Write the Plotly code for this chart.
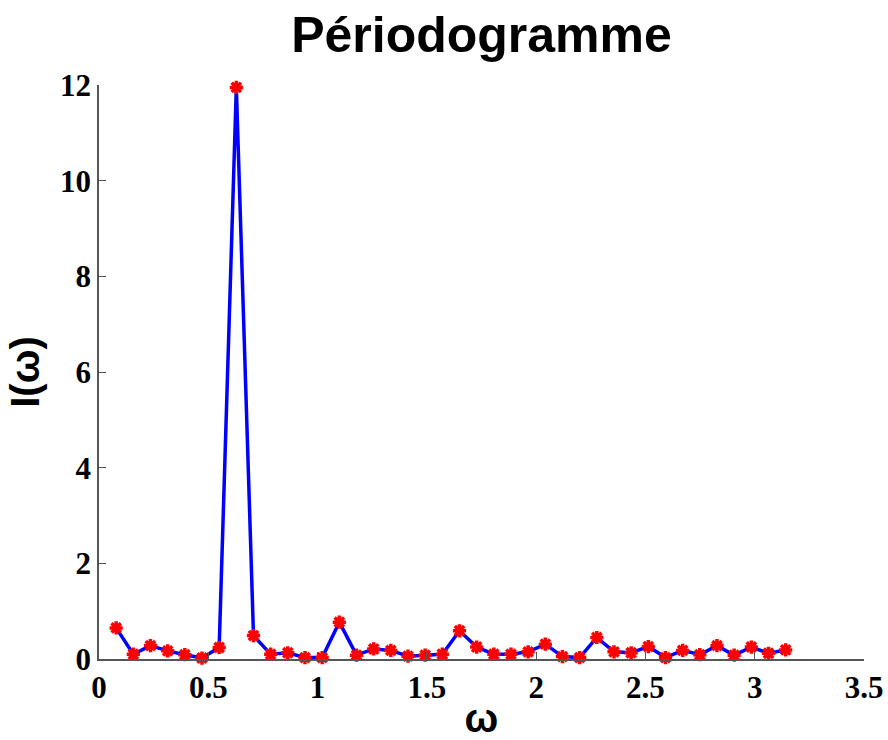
import plotly.graph_objects as go
import numpy as np

# frequencies omega_k = 2*pi*k/80, k=1..40
k_index = list(range(1, 41))
omega = [2 * np.pi * k / 80 for k in k_index]
periodogram = [0.65, 0.10, 0.28, 0.17, 0.09, 0.02, 0.24, 11.95, 0.49, 0.10,
               0.13, 0.03, 0.03, 0.77, 0.08, 0.21, 0.18, 0.06, 0.08, 0.10,
               0.59, 0.25, 0.10, 0.10, 0.15, 0.31, 0.05, 0.03, 0.45, 0.15,
               0.13, 0.26, 0.03, 0.18, 0.09, 0.28, 0.08, 0.25, 0.12, 0.19]

x_ticks = [0, 0.5, 1, 1.5, 2, 2.5, 3, 3.5]
x_ticklabels = ["0", "0.5", "1", "1.5", "2", "2.5", "3", "3.5"]
y_ticks = [0, 2, 4, 6, 8, 10, 12]
y_ticklabels = ["0", "2", "4", "6", "8", "10", "12"]

fig = go.Figure()
fig.add_trace(go.Scatter(
    x=omega, y=periodogram, mode="lines+markers",
    line=dict(color="#0000ff", width=3.5),
    marker=dict(symbol="asterisk", size=11, color="#ff0000",
                line=dict(color="#ff0000", width=3.5)),
    showlegend=False, cliponaxis=False,
))

tick_font = dict(family="Liberation Serif", size=31, color="black", weight="bold")

fig.update_layout(
    width=888, height=740,
    margin=dict(l=99, r=24, t=85, b=81),
    paper_bgcolor="white", plot_bgcolor="white",
    title=dict(text="Périodogramme", x=0.5, xref="paper", xanchor="center",
               y=1, yref="container", yanchor="top", pad=dict(t=17),
               font=dict(family="Liberation Sans", size=50, color="black", weight="bold")),
    xaxis=dict(range=[0, 3.5], tickvals=x_ticks, ticktext=x_ticklabels,
               ticks="inside", ticklen=7, tickcolor="#555555", tickwidth=1,
               showline=True, linecolor="#555555", linewidth=1.5,
               showgrid=False, zeroline=False, tickfont=tick_font, automargin=False,
               title=dict(text="ω", standoff=2,
                          font=dict(family="Liberation Sans", size=40, color="black", weight="bold"))),
    yaxis=dict(range=[0, 12], tickvals=y_ticks, ticktext=y_ticklabels,
               ticks="inside", ticklen=7, tickcolor="#555555", tickwidth=1,
               showline=True, linecolor="#555555", linewidth=1.5,
               showgrid=False, zeroline=False, tickfont=tick_font, automargin=False,
               title=dict(text="I(ω)", standoff=8,
                          font=dict(family="Liberation Sans", size=40, color="black", weight="bold"))),
)

fig.write_html("out.html")
